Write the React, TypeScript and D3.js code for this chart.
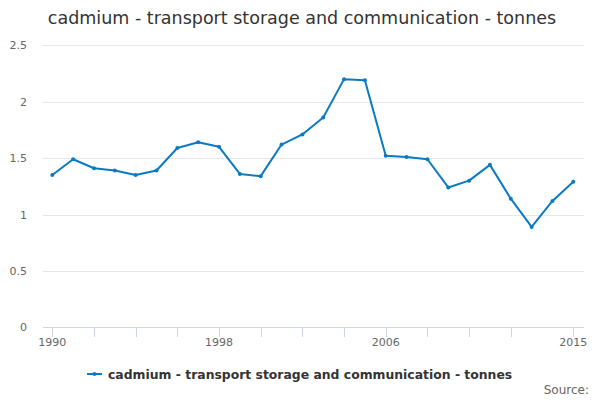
import React, { useRef, useEffect } from "react";
import * as d3 from "d3";

const years = [
    1990, 1991, 1992, 1993, 1994, 1995, 1996, 1997, 1998, 1999, 2000, 2001, 2002,
    2003, 2004, 2005, 2006, 2007, 2008, 2009, 2010, 2011, 2012, 2013, 2014, 2015,
];
const tonnes = [
    1.35, 1.49, 1.41, 1.39, 1.35, 1.39, 1.59, 1.64, 1.6, 1.36, 1.34, 1.62, 1.71,
    1.86, 2.2, 2.19, 1.52, 1.51, 1.49, 1.24, 1.3, 1.44, 1.14, 0.89, 1.12, 1.29,
];
const xTicks = [1990, 1992, 1994, 1996, 1998, 2000, 2002, 2004, 2006, 2008, 2010, 2012, 2015];
const xLabels = [1990, 1998, 2006, 2015];
const yTicks = [0, 0.5, 1, 1.5, 2, 2.5];

const title = "cadmium - transport storage and communication - tonnes";
const seriesName = "cadmium - transport storage and communication - tonnes";

const App = () => {
    const svgRef = useRef(null);

    useEffect(() => {
        const font = "'DejaVu Sans', sans-serif";
        const color = "#0a7bc2";

        const svg = d3.select(svgRef.current);
        svg.selectAll("*").remove();

        const x = d3.scaleLinear().domain([1990, 2015]).range([52.3, 573.3]);
        const y = d3.scaleLinear().domain([0, 2.5]).range([327.3, 45.3]);

        // title
        svg.append("text")
            .attr("x", 302)
            .attr("y", 24)
            .attr("text-anchor", "middle")
            .attr("font-family", font)
            .attr("font-size", 17.5)
            .attr("fill", "#333")
            .text(title);

        // grid
        svg.append("g")
            .selectAll("line")
            .data(yTicks.filter((d) => d > 0))
            .enter()
            .append("line")
            .attr("x1", 43)
            .attr("x2", 584)
            .attr("y1", (d: number) => Math.round(y(d)) + 0.5)
            .attr("y2", (d: number) => Math.round(y(d)) + 0.5)
            .attr("stroke", "#e6e6e6");

        // y labels
        svg.append("g")
            .selectAll("text")
            .data(yTicks)
            .enter()
            .append("text")
            .attr("x", 27)
            .attr("y", (d: number) => y(d) + 4)
            .attr("text-anchor", "end")
            .attr("font-family", font)
            .attr("font-size", 11)
            .attr("fill", "#666")
            .text((d: number) => d3.format("")(d));

        // x axis
        svg.append("line")
            .attr("x1", 43)
            .attr("x2", 584)
            .attr("y1", 327.5)
            .attr("y2", 327.5)
            .attr("stroke", "#ccd6eb");

        svg.append("g")
            .selectAll("line")
            .data(xTicks)
            .enter()
            .append("line")
            .attr("x1", (d: number) => Math.round(x(d)) + 0.5)
            .attr("x2", (d: number) => Math.round(x(d)) + 0.5)
            .attr("y1", 327)
            .attr("y2", 337)
            .attr("stroke", "#ccd6eb");

        svg.append("g")
            .selectAll("text")
            .data(xLabels)
            .enter()
            .append("text")
            .attr("x", (d: number) => x(d))
            .attr("y", 346)
            .attr("text-anchor", "middle")
            .attr("font-family", font)
            .attr("font-size", 11)
            .attr("fill", "#666")
            .text((d: number) => String(d));

        // series
        const pts = years.map((yr, i) => [yr, tonnes[i]] as [number, number]);
        const line = d3
            .line<[number, number]>()
            .x((d) => x(d[0]))
            .y((d) => y(d[1]));

        svg.append("path")
            .datum(pts)
            .attr("d", line)
            .attr("fill", "none")
            .attr("stroke", color)
            .attr("stroke-width", 2)
            .attr("stroke-linejoin", "round");

        svg.append("g")
            .selectAll("circle")
            .data(pts)
            .enter()
            .append("circle")
            .attr("cx", (d: [number, number]) => x(d[0]))
            .attr("cy", (d: [number, number]) => y(d[1]))
            .attr("r", 2)
            .attr("fill", color);

        // legend
        svg.append("line")
            .attr("x1", 87)
            .attr("x2", 102)
            .attr("y1", 374)
            .attr("y2", 374)
            .attr("stroke", color)
            .attr("stroke-width", 2);
        svg.append("circle").attr("cx", 94.5).attr("cy", 374).attr("r", 2).attr("fill", color);
        svg.append("text")
            .attr("x", 108)
            .attr("y", 378.5)
            .attr("font-family", font)
            .attr("font-size", 12.4)
            .attr("font-weight", "bold")
            .attr("fill", "#333")
            .text(seriesName);

        // credits
        svg.append("text")
            .attr("x", 589)
            .attr("y", 394)
            .attr("text-anchor", "end")
            .attr("font-family", font)
            .attr("font-size", 12)
            .attr("fill", "#666")
            .text("Source:");
    }, []);

    return (
        <div style={{ position: "absolute", left: 0, top: 0 }}>
            <svg ref={svgRef} width={600} height={400}></svg>
        </div>
    );
};

export default App;
